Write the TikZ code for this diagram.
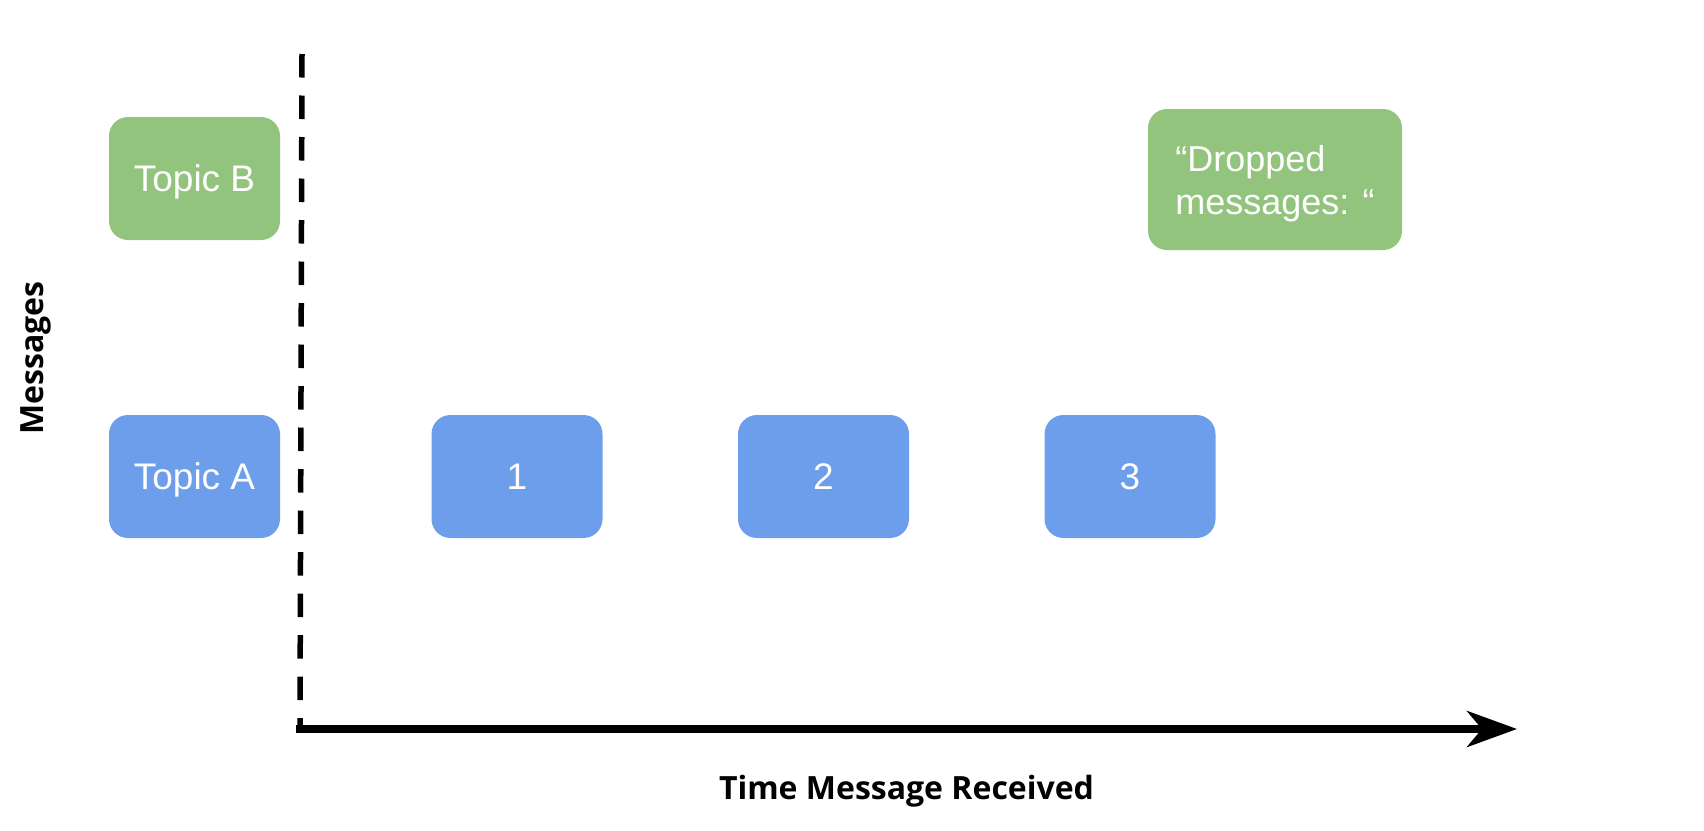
\documentclass[tikz,border=0pt]{standalone}
\usepackage{fontspec}
\setmainfont{Liberation Sans}
\newfontfamily\labelfont{Open Sans}
\usetikzlibrary{arrows.meta}
\definecolor{boxgreen}{HTML}{93C47D}
\definecolor{boxblue}{HTML}{6D9EEB}
\tikzset{
  msgbox/.style={rectangle, rounded corners=19pt, draw=none, text=white,
    minimum width=171pt, minimum height=123pt, inner sep=0pt, text depth=0pt,
    font=\fontsize{37}{43}\selectfont},
  greenbox/.style={msgbox, fill=boxgreen},
  bluebox/.style={msgbox, fill=boxblue},
  axislabel/.style={font=\labelfont\bfseries\fontsize{32}{38}\selectfont, inner sep=0pt},
  timeaxis/.style={line width=7.5pt, -{Stealth[length=50pt, width=36pt, inset=15pt]}},
  startline/.style={line width=5.5pt, dash pattern=on 23.5pt off 18pt},
}
\begin{document}
\begin{tikzpicture}[x=1pt, y=-1pt]
\useasboundingbox (0,0) rectangle (1704,830);
\coordinate (dtop) at (302,54);
\coordinate (dbot) at (300,726);
\coordinate (origin) at (296,729);
\coordinate (tip) at (1517,729);
\draw[startline] (dtop) -- (dbot);
\draw[timeaxis] (origin) -- (tip);
\node[greenbox] (topicb) at (194.5,178.5) {Topic B};
\node[bluebox] (topica) at (194.5,476.5) {Topic A};
\node[bluebox] (m1) at (517,476.5) {1};
\node[bluebox] (m2) at (823.5,476.5) {2};
\node[bluebox] (m3) at (1130,476.5) {3};
\node[greenbox, minimum width=254pt, minimum height=141pt,
  align=left, font=\fontsize{36}{43}\selectfont] (dropped) at (1275,179.5)
  {“Dropped\\messages: “};
\node[axislabel, anchor=base] (xlabel) at (906.5,799) {Time Message Received};
\node[axislabel, rotate=90] (ylabel) at (36,358) {Messages};
\end{tikzpicture}
\end{document}
